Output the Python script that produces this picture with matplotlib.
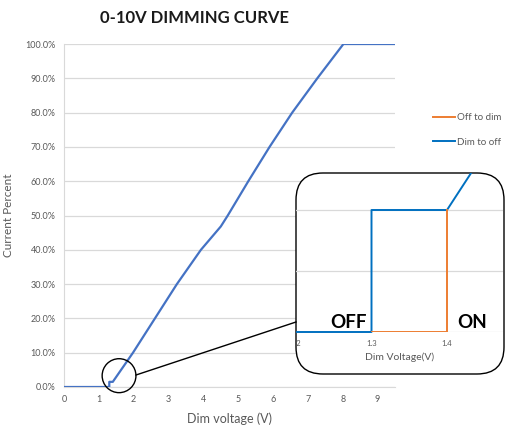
import matplotlib
matplotlib.use("Agg")
import matplotlib.pyplot as plt
from matplotlib.patches import FancyBboxPatch, Ellipse
from matplotlib.lines import Line2D
from matplotlib.transforms import Bbox, TransformedBbox

plt.rcParams['font.family'] = ['Lato', 'DejaVu Sans']

# main dimming curve
voltage = [0, 1.3, 1.3, 1.4, 1.98, 2.61, 3.24, 3.93, 4.5, 4.7, 5.29, 5.90, 6.55, 7.27, 8.02, 9.5]
current = [0, 0, 1.5, 1.5, 10, 20, 30, 40, 46.8, 50, 60, 70, 80, 90, 100, 100]

# zoomed-in hysteresis detail
dim_to_off_v = [1.2, 1.3, 1.3, 1.4, 1.5]
dim_to_off_y = [0, 0, 2, 2, 3.9]
off_to_dim_v = [1.3, 1.4, 1.4]
off_to_dim_y = [0, 0, 2]

yticks = [0, 10, 20, 30, 40, 50, 60, 70, 80, 90, 100]
xticks = [0, 1, 2, 3, 4, 5, 6, 7, 8, 9]
inset_xticks = [1.2, 1.3, 1.4]

grey = '#595959'
grid = '#D9D9D9'

fig = plt.figure(figsize=(5.07, 4.29), dpi=100)

# Main chart
ax = fig.add_axes([64/507, 1 - 387/429, 331/507, 343/429])
ax.plot(voltage, current, color='#4472C4', lw=1.6, zorder=3)
ax.set_xlim(0, 9.5)
ax.set_ylim(0, 100)
ax.set_xticks(xticks)
ax.set_yticks(yticks)
ax.set_yticklabels(['{:.1f}%'.format(v) for v in yticks])
ax.grid(axis='y', color=grid, lw=0.9)
ax.set_axisbelow(True)
for s in ['top', 'right']:
    ax.spines[s].set_visible(False)
ax.spines['left'].set_color(grid)
ax.spines['bottom'].set_color(grid)
ax.tick_params(length=0, labelsize=6.5, labelcolor=grey, pad=6)
ax.set_xlabel('Dim voltage (V)', fontsize=9, color=grey, labelpad=6)
ax.set_ylabel('Current Percent', fontsize=8.5, color=grey, labelpad=8)

# Magnifier circle
ax.add_patch(Ellipse((1.58, 3.3), 0.97, 9.9, fill=False, ec='black', lw=1, clip_on=False, zorder=4))

fig.text(194/507, 1 - 18/429, '0-10V DIMMING CURVE', ha='center', va='center',
         fontsize=12, fontweight='bold', color='#1a1a1a')

# Rounded inset box
box = FancyBboxPatch((2.96, 0.55), 2.08, 2.01, boxstyle='round,pad=0,rounding_size=0.27',
                     transform=fig.dpi_scale_trans, fc='white', ec='black', lw=1, zorder=1)
fig.add_artist(box)

# Connector line
fig.add_artist(Line2D([136/507, 296/507], [1 - 375/429, 1 - 322/429], color='black', lw=1, zorder=3))

# Inset axes
axi = fig.add_axes([296/507, 1 - 332/429, 207/507, 156/429], zorder=2)
axi.patch.set_alpha(0)
axi.plot(dim_to_off_v, dim_to_off_y, color='#0070C0', lw=1.4, zorder=3, clip_path=box)
axi.plot(off_to_dim_v, off_to_dim_y, color='#ED7D31', lw=1.4, zorder=4)
axi.set_xlim(1.2, 1.2 + 207/755)
axi.set_ylim(0, 156/61)
axi.set_xticks(inset_xticks)
axi.set_xticklabels(['1.2', '1.3', '1.4'])
axi.set_yticks([0, 1, 2])
axi.grid(axis='y', color=grid, lw=0.9)
axi.set_axisbelow(True)
for s in axi.spines.values():
    s.set_visible(False)
axi.tick_params(length=0, labelsize=5.5, labelcolor=grey, labelleft=False, pad=6)
axi.set_xlabel('Dim Voltage(V)', fontsize=7.5, color=grey, labelpad=4)
clip_rect = TransformedBbox(Bbox([[2.97, 0], [5.04, 4.29]]), fig.dpi_scale_trans)
for lab in axi.get_xticklabels():
    lab.set_clip_on(True)
    lab.set_clip_box(clip_rect)
axi.text(1.27, 0.07, 'OFF', ha='center', va='baseline', fontsize=13.5, fontweight='bold', color='black')
axi.text(1.433, 0.07, 'ON', ha='center', va='baseline', fontsize=13.5, fontweight='bold', color='black')

# Legend
handles = [Line2D([], [], color='#ED7D31', lw=1.4), Line2D([], [], color='#0070C0', lw=1.4)]
fig.legend(handles, ['Off to dim', 'Dim to off'], loc='center left',
           bbox_to_anchor=(424/507, 1 - 130/429), frameon=False, fontsize=7,
           handlelength=2.3, handletextpad=0.2, labelspacing=1.6, labelcolor=grey)

fig.savefig('out.png', dpi=100)
